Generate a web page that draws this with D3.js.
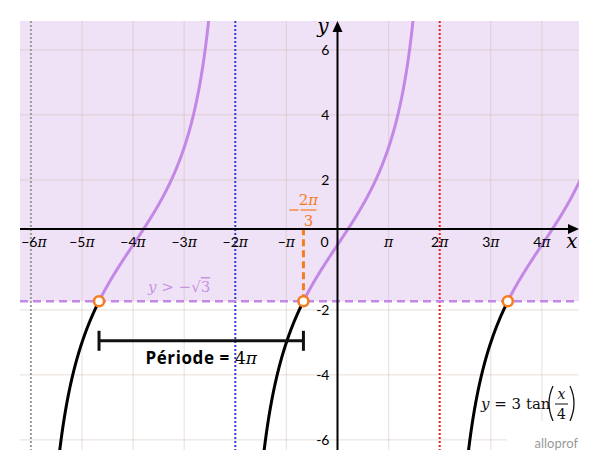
<!DOCTYPE html>
<html>
<head>
<meta charset="utf-8">
<script src="https://cdn.jsdelivr.net/npm/d3@7"></script>
<style>
  html, body { margin: 0; padding: 0; background: #fff; }
  svg { display: block; }
</style>
</head>
<body>
<svg id="chart" width="600" height="470"></svg>
<script>
// ---------- data ----------
const xDomainPi = [-6.213, 4.726];          // visible x range in multiples of π
const yDomain = [-6.31, 6.89];
const xTicksPi = [-6, -5, -4, -3, -2, -1, 0, 1, 2, 3, 4];
const xTickNum = ["−6", "−5", "−4", "−3", "−2", "−", "0", "", "2", "3", "4"];
const yTicks = [-6, -4, -2, 2, 4, 6];
const yTickLabels = ["-6", "-4", "-2", "2", "4", "6"];
const asymptotesPi = [-6, -2, 2];
const asymptoteColors = ["#9a9a9a", "#2f3fc4", "#ee1c1c"];
const branchesPi = [[-6, -2], [-2, 2], [2, 6]];
const boundaryPi = [-14 / 3, -2 / 3, 10 / 3];   // where 3tan(x/4) = -√3
const amplitude = 3;
const freq = 1 / 4;
const threshold = -Math.sqrt(3);
const periodFromPi = -14 / 3, periodToPi = -2 / 3, periodY = -2.95;

// ---------- setup ----------
const PI = Math.PI;
const svg = d3.select("#chart");
const pLeft = 20, pRight = 579, pTop = 21, pBottom = 450;
const x = d3.scaleLinear().domain(xDomainPi.map(d => d * PI)).range([pLeft, pRight]);
const y = d3.scaleLinear().domain(yDomain).range([pBottom, pTop]);
const f = v => amplitude * Math.tan(freq * v);
const axisY = y(0) - 16;   // drawn x-axis line position
const purple = "#c387e6", lavender = "#f0e2f6", orange = "#f57c1f";
const serif = "'DejaVu Serif', 'Liberation Serif', serif";
const sans = "Lato, 'Open Sans', sans-serif";

svg.append("defs").append("clipPath").attr("id", "plot")
  .append("rect").attr("x", pLeft).attr("y", pTop).attr("width", pRight - pLeft).attr("height", pBottom - pTop);

// shaded region y > -√3
svg.append("rect").attr("x", pLeft).attr("y", pTop)
  .attr("width", pRight - pLeft).attr("height", y(threshold) - pTop).attr("fill", lavender);

// grid
const grid = svg.append("g").attr("stroke", "#c9b2a6").attr("stroke-opacity", 0.35).attr("stroke-width", 1.2);
xTicksPi.filter(d => d !== 0 && !asymptotesPi.includes(d)).forEach(d => {
  grid.append("line").attr("x1", x(d * PI)).attr("x2", x(d * PI)).attr("y1", pTop).attr("y2", pBottom);
});
yTicks.forEach(d => {
  grid.append("line").attr("x1", pLeft).attr("x2", pRight).attr("y1", y(d)).attr("y2", y(d));
});

// asymptotes
asymptotesPi.forEach((d, i) => {
  svg.append("line").attr("x1", x(d * PI)).attr("x2", x(d * PI)).attr("y1", pTop).attr("y2", pBottom)
    .attr("stroke", asymptoteColors[i]).attr("stroke-width", 2).attr("stroke-dasharray", "2,2");
});

// threshold dashed line
svg.append("line").attr("x1", pLeft).attr("x2", pRight).attr("y1", y(threshold)).attr("y2", y(threshold))
  .attr("stroke", purple).attr("stroke-width", 2.5).attr("stroke-dasharray", "8,5");

// curves
const line = d3.line().x(d => x(d[0])).y(d => y(d[1]));
const curves = svg.append("g").attr("clip-path", "url(#plot)").attr("fill", "none").attr("stroke-width", 3);
function sample(a, b) {
  const pts = [];
  const n = 400;
  for (let i = 0; i <= n; i++) {
    const v = a + (b - a) * i / n;
    const w = f(v);
    if (Math.abs(w) < 12) pts.push([v, w]);
  }
  return pts;
}
branchesPi.forEach((br, i) => {
  const a = br[0] * PI + 1e-3, b = br[1] * PI - 1e-3, c = boundaryPi[i] * PI;
  curves.append("path").attr("d", line(sample(a, c))).attr("stroke", "#000");
  curves.append("path").attr("d", line(sample(c, b))).attr("stroke", purple);
});

// orange guide at -2π/3
svg.append("line").attr("x1", x(-2 / 3 * PI)).attr("x2", x(-2 / 3 * PI))
  .attr("y1", y(threshold)).attr("y2", axisY)
  .attr("stroke", orange).attr("stroke-width", 3).attr("stroke-dasharray", "7,4");

// axes
const axes = svg.append("g");
axes.append("line").attr("x1", pLeft).attr("x2", pRight - 8).attr("y1", axisY).attr("y2", axisY)
  .attr("stroke", "#000").attr("stroke-width", 2);
axes.append("path").attr("d", `M${pRight},${axisY} L${pRight - 11},${axisY - 5} L${pRight - 11},${axisY + 5} Z`).attr("fill", "#000");
axes.append("line").attr("x1", x(0)).attr("x2", x(0)).attr("y1", pBottom).attr("y2", pTop + 8)
  .attr("stroke", "#000").attr("stroke-width", 2);
axes.append("path").attr("d", `M${x(0)},${pTop} L${x(0) - 5},${pTop + 11} L${x(0) + 5},${pTop + 11} Z`).attr("fill", "#000");

axes.append("text").attr("x", 572).attr("y", axisY + 19).attr("font-family", serif).attr("font-style", "italic")
  .attr("font-size", 20).attr("text-anchor", "middle").text("x");
axes.append("text").attr("x", 323).attr("y", pTop + 12).attr("font-family", serif).attr("font-style", "italic")
  .attr("font-size", 20).attr("text-anchor", "middle").text("y");

// x tick labels
xTicksPi.forEach((d, i) => {
  const t = svg.append("text")
    .attr("x", d === 0 ? x(0) - 13 : x(d * PI) + (d === -6 ? 3 : 0))
    .attr("y", axisY + 18).attr("text-anchor", "middle").attr("font-size", 14).attr("font-family", sans);
  t.append("tspan").text(xTickNum[i]);
  if (d !== 0) t.append("tspan").attr("font-family", serif).attr("font-style", "italic").attr("font-size", 14).text("π");
});

// y tick labels
yTicks.forEach((d, i) => {
  svg.append("text").attr("x", x(0) - 8).attr("y", y(d)).attr("dy", "0.35em")
    .attr("text-anchor", "end").attr("font-size", 14).attr("font-family", sans).text(yTickLabels[i]);
});

// -2π/3 label
const fx = x(-2 / 3 * PI) + 5;
svg.append("line").attr("x1", fx - 19).attr("x2", fx - 10).attr("y1", 210).attr("y2", 210)
  .attr("stroke", orange).attr("stroke-width", 1.3);
svg.append("text").attr("x", fx).attr("y", 205).attr("font-family", serif).attr("font-size", 15)
  .attr("fill", orange).attr("text-anchor", "middle")
  .call(t => { t.append("tspan").text("2"); t.append("tspan").attr("font-style", "italic").text("π"); });
svg.append("line").attr("x1", fx - 8).attr("x2", fx + 8).attr("y1", 210).attr("y2", 210)
  .attr("stroke", orange).attr("stroke-width", 1.2);
svg.append("text").attr("x", fx).attr("y", 226).attr("font-family", serif).attr("font-size", 15)
  .attr("fill", orange).attr("text-anchor", "middle").text("3");

// y > -√3 label
const lbl = svg.append("text").attr("x", 148).attr("y", 292).attr("font-family", serif).attr("font-size", 15)
  .attr("fill", "#c594e0");
lbl.append("tspan").attr("font-style", "italic").text("y");
lbl.append("tspan").text(" > −√");
lbl.append("tspan").attr("text-decoration", "overline").text("3");

// period annotation
const p1 = x(periodFromPi * PI), p2 = x(periodToPi * PI), py = y(periodY);
const per = svg.append("g").attr("stroke", "#111").attr("stroke-width", 3);
per.append("line").attr("x1", p1).attr("x2", p2).attr("y1", py).attr("y2", py);
per.append("line").attr("x1", p1).attr("x2", p1).attr("y1", py - 10).attr("y2", py + 10);
per.append("line").attr("x1", p2).attr("x2", p2).attr("y1", py - 10).attr("y2", py + 10);
const pt = svg.append("text").attr("x", (p1 + p2) / 2).attr("y", py + 23).attr("text-anchor", "middle");
pt.append("tspan").attr("font-family", "'Open Sans', sans-serif").attr("font-weight", "bold").attr("font-size", 17)
  .attr("letter-spacing", 0.6).text("Période = ");
pt.append("tspan").attr("font-family", serif).attr("font-size", 17).text("4");
pt.append("tspan").attr("font-family", serif).attr("font-style", "italic").attr("font-size", 17).text("π");

// boundary points
boundaryPi.forEach(d => {
  svg.append("circle").attr("cx", x(d * PI)).attr("cy", y(threshold)).attr("r", 5)
    .attr("fill", "#fff").attr("stroke", orange).attr("stroke-width", 2.5);
});

// equation label
const eq = svg.append("g").attr("font-family", serif).attr("fill", "#111");
eq.append("text").attr("x", 481).attr("y", 409).attr("font-size", 15)
  .call(t => {
    t.append("tspan").attr("font-style", "italic").text("y");
    t.append("tspan").text(" = 3 tan");
  });
eq.append("path").attr("d", "M553,386 Q545,403 553,421").attr("fill", "none").attr("stroke", "#111").attr("stroke-width", 1.3);
eq.append("path").attr("d", "M570,386 Q578,403 570,421").attr("fill", "none").attr("stroke", "#111").attr("stroke-width", 1.3);
eq.append("text").attr("x", 561.5).attr("y", 399).attr("font-size", 14).attr("font-style", "italic").attr("text-anchor", "middle").text("x");
eq.append("line").attr("x1", 555).attr("x2", 568).attr("y1", 404).attr("y2", 404).attr("stroke", "#111").attr("stroke-width", 1);
eq.append("text").attr("x", 561.5).attr("y", 419).attr("font-size", 14).attr("text-anchor", "middle").text("4");

// logo
svg.append("rect").attr("x", 507).attr("y", 421).attr("width", 72).attr("height", 29).attr("fill", "#fff");
svg.append("text").attr("x", 578).attr("y", 448).attr("text-anchor", "end").attr("font-family", sans)
  .attr("font-size", 13).attr("fill", "#9a9a9a").text("alloprof");
</script>
</body>
</html>
